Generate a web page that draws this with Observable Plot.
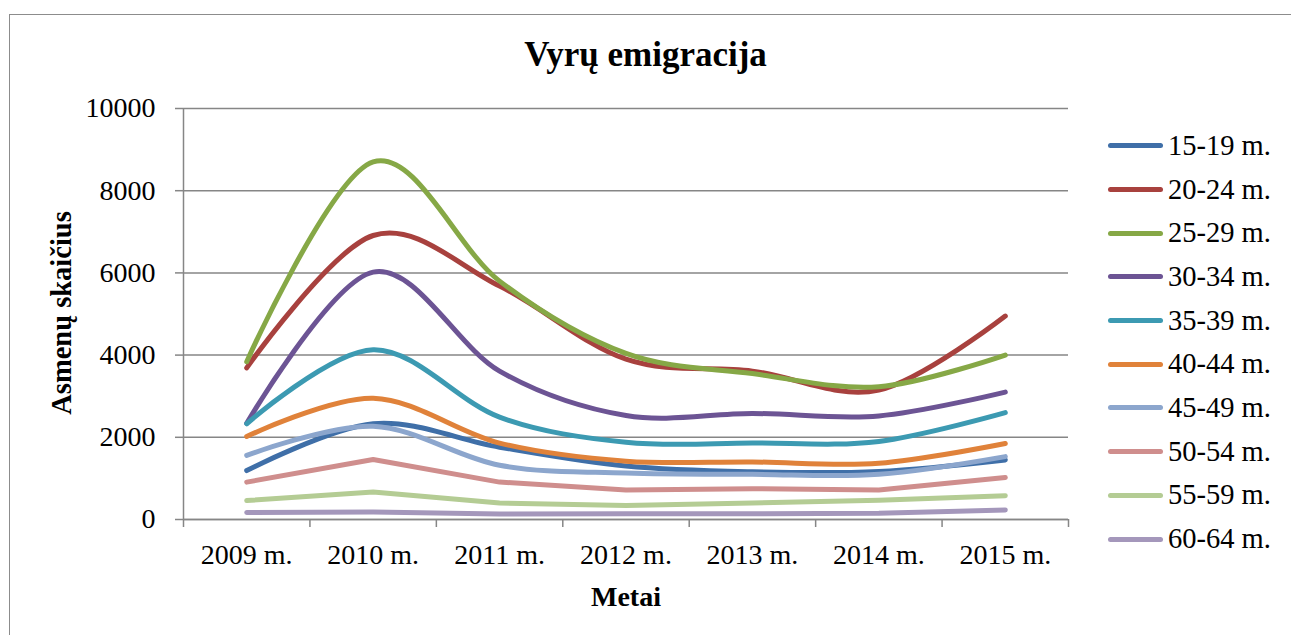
<!DOCTYPE html>
<html>
<head>
<meta charset="utf-8">
<script src="https://cdn.jsdelivr.net/npm/d3@7"></script>
<script src="https://cdn.jsdelivr.net/npm/@observablehq/plot@0.6"></script>
<style>
  html, body { margin: 0; padding: 0; background: #fff; overflow: hidden; }
  #wrap { position: relative; width: 1291px; height: 635px; font-family: "Liberation Serif", "Times New Roman", serif; }
  #frame { position: absolute; left: 9px; top: 14px; width: 1300px; height: 700px; border: 1.5px solid #8c8c8c; box-sizing: border-box; }
  #title { position: absolute; left: 0; width: 1291px; top: 35px; text-align: center; font-weight: bold; font-size: 35px; color: #000; }
  #ytitle { position: absolute; left: 62px; top: 313px; transform: translate(-50%, -50%) rotate(-90deg); white-space: nowrap; font-weight: bold; font-size: 28.5px; }
  #xtitle { position: absolute; left: 0; width: 1252px; top: 581px; text-align: center; font-weight: bold; font-size: 28px; }
  #chart { position: absolute; left: 0; top: 0; }
  #legend { position: absolute; left: 1108px; top: 124px; }
  .li { display: flex; align-items: center; height: 43.7px; font-size: 28.5px; white-space: nowrap; }
  .sw { width: 55px; height: 5px; border-radius: 3px; margin-right: 5px; }
  svg text { font-family: "Liberation Serif", "Times New Roman", serif; }
</style>
</head>
<body>
<div id="wrap">
  <div id="frame"></div>
  <div id="chart"></div>
  <div id="title">Vyrų emigracija</div>
  <div id="ytitle">Asmenų skaičius</div>
  <div id="xtitle">Metai</div>
  <div id="legend"></div>
</div>
<script>
const years = ["2009 m.", "2010 m.", "2011 m.", "2012 m.", "2013 m.", "2014 m.", "2015 m."];
const groups = ["15-19 m.", "20-24 m.", "25-29 m.", "30-34 m.", "35-39 m.", "40-44 m.", "45-49 m.", "50-54 m.", "55-59 m.", "60-64 m."];
const colors = ["#3F6FA8", "#A8413E", "#86A846", "#6C5494", "#3C9AB2", "#E0823A", "#8CA6CD", "#CF8E8D", "#B4CC94", "#A497BB"];
const smooth = [true, true, true, true, true, true, true, false, false, false];

const v15_19 = [1190, 2330, 1760, 1300, 1160, 1170, 1450];
const v20_24 = [3690, 6910, 5680, 3900, 3610, 3150, 4950];
const v25_29 = [3840, 8700, 5800, 4040, 3550, 3230, 4000];
const v30_34 = [2340, 6020, 3610, 2530, 2580, 2520, 3100];
const v35_39 = [2330, 4130, 2490, 1880, 1860, 1900, 2600];
const v40_44 = [2020, 2950, 1860, 1420, 1400, 1370, 1850];
const v45_49 = [1560, 2270, 1320, 1130, 1100, 1100, 1530];
const v50_54 = [910, 1460, 910, 720, 750, 720, 1020];
const v55_59 = [460, 670, 400, 340, 400, 470, 580];
const v60_64 = [170, 185, 135, 138, 138, 150, 230];

const yTicks = [0, 2000, 4000, 6000, 8000, 10000];

const series = [v15_19, v20_24, v25_29, v30_34, v35_39, v40_44, v45_49, v50_54, v55_59, v60_64];

const marks = [
  Plot.gridY(yTicks, {stroke: "#868686", strokeOpacity: 1, strokeWidth: 1.5}),
  Plot.axisY(yTicks, {tickSize: 8, tickPadding: 20, stroke: "#868686", strokeWidth: 1.5, fontSize: 28, fill: "#000", tickFormat: d => String(d), label: null}),
  Plot.axisX(d3.range(years.length + 1).map(i => i - 0.5), {tickSize: 8, tickFormat: () => "", stroke: "#868686", strokeWidth: 1.5, label: null}),
  Plot.axisX(d3.range(years.length), {tickSize: 0, tickPadding: 25, tickFormat: i => years[i], fontSize: 28, fill: "#000", label: null}),
  Plot.ruleY([0], {stroke: "#868686", strokeWidth: 1.5}),
  Plot.ruleX([-0.5], {stroke: "#868686", strokeWidth: 1.5})
];
series.forEach((vals, k) => {
  const data = vals.map((v, i) => ({i, v}));
  marks.push(Plot.line(data, {x: "i", y: "v", stroke: colors[k], strokeWidth: 5, strokeLinecap: "round", strokeLinejoin: "round", curve: smooth[k] ? "cardinal" : "linear"}));
});

const chart = Plot.plot({
  width: 1291,
  height: 635,
  marginLeft: 183,
  marginRight: 223,
  marginTop: 108,
  marginBottom: 116,
  style: {fontFamily: "'Liberation Serif', 'Times New Roman', serif", background: "transparent", overflow: "visible"},
  x: {type: "linear", domain: [-0.5, years.length - 0.5]},
  y: {domain: [0, 10000]},
  marks
});
document.getElementById("chart").appendChild(chart);

const legend = document.getElementById("legend");
groups.forEach((g, k) => {
  const row = document.createElement("div");
  row.className = "li";
  const sw = document.createElement("div");
  sw.className = "sw";
  sw.style.background = colors[k];
  const t = document.createElement("span");
  t.textContent = g;
  row.appendChild(sw);
  row.appendChild(t);
  legend.appendChild(row);
});
</script>
</body>
</html>
